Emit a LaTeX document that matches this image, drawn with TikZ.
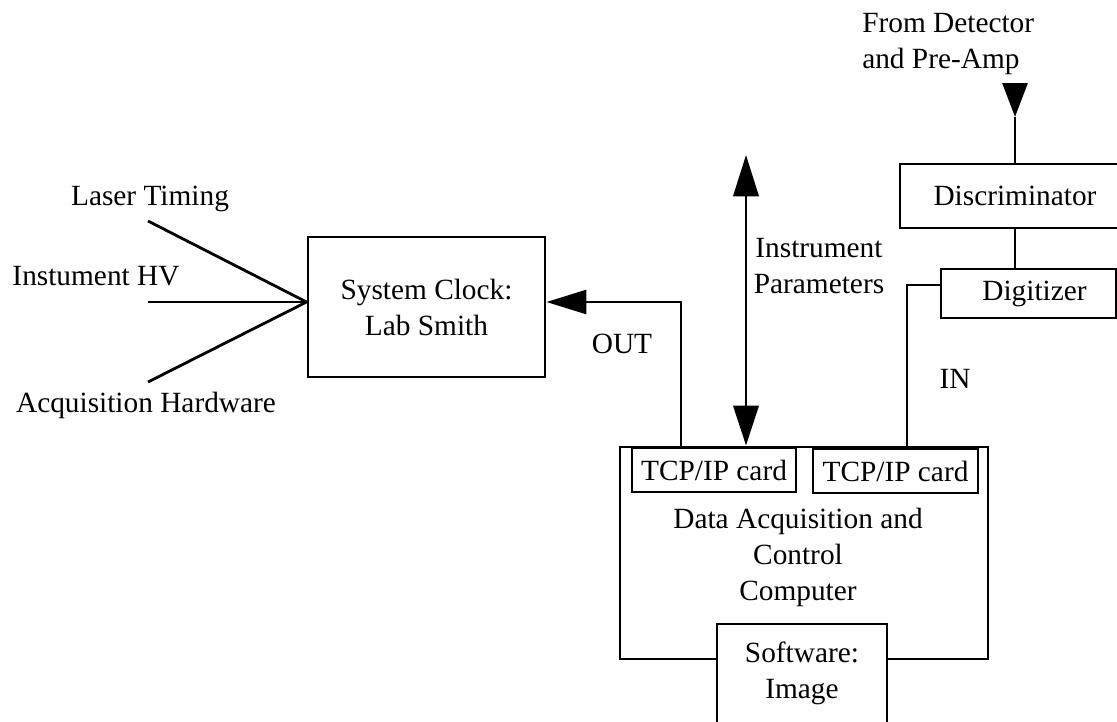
\documentclass[tikz,border=0pt]{standalone}
\usepackage{fontspec}
\setmainfont{Liberation Serif}
\usetikzlibrary{arrows.meta}
\begin{document}
\begin{tikzpicture}[x=0.75pt,y=-0.75pt,
  every node/.style={font=\fontsize{22}{27}\selectfont,inner sep=0pt},
  boxnode/.style={draw,line width=2.2pt,fill=white},
  wire/.style={line width=2.1pt},
  tipend/.style={wire,-{Triangle[length=30pt,width=18pt]}},
  tipboth/.style={wire,{Triangle[length=31pt,width=19pt]}-{Triangle[length=30pt,width=19pt]}},
  lbl/.style={align=center}]
\useasboundingbox (0,0) rectangle (1117,721);

% boxes
\node[boxnode,minimum width=177.75pt,minimum height=105pt,lbl] (clock) at (426.5,307) {System Clock:\\Lab Smith};
\node[boxnode,minimum width=172.5pt,minimum height=48pt] (disc) at (1015,196) {Discriminator};
\node[boxnode,minimum width=131.25pt,minimum height=36.75pt] (dig) at (1028.5,293.5) {\hspace*{9pt}Digitizer};
\node[boxnode,minimum width=276pt,minimum height=159pt] (comp) at (804,553) {};
\node[boxnode,minimum width=123pt,minimum height=33pt] (tcp1) at (714,470) {TCP/IP card};
\node[boxnode,minimum width=123.75pt,minimum height=33pt] (tcp2) at (895.5,471) {TCP/IP card};
\node[lbl] (comptxt) at (798,557) {Data Acquisition and\\Control\\Computer};
\node[boxnode,minimum width=127.5pt,minimum height=102pt] (soft) at (802,692) {};
\node[lbl] (softtxt) at (802,673) {Software:\\Image};

% free labels
\node[anchor=base] (laser) at (150,205) {Laser Timing};
\node[anchor=base] (hv) at (96,285) {Instument HV};
\node[anchor=base] (acq) at (146,412) {Acquisition Hardware};
\node[anchor=base] (out) at (622,353) {OUT};
\node[anchor=base] (in) at (955,388) {IN};
\node[lbl] (ipar) at (819,266) {Instrument\\Parameters};
\node[align=left,anchor=west] (det) at (862,44) {From Detector\\and Pre-Amp};

% coordinates
\coordinate (l1) at (148,221);
\coordinate (l2) at (148,302);
\coordinate (l3) at (148,382);
\coordinate (outc) at (681,302);
\coordinate (iptop) at (746,155);
\coordinate (inc) at (907,285);
\coordinate (detb) at (1015,83);
\coordinate (dett) at (1015,117);

% fan into clock
\draw[wire] (l1) -- (clock.west |- l2);
\draw[wire] (l2) -- (clock.west |- l2);
\draw[wire] (l3) -- (clock.west |- l2);

% OUT connector
\draw[tipend] (comp.north -| outc) -- (outc) -- (clock.east |- outc);

% instrument parameters
\draw[tipboth] (iptop) -- (comp.north -| iptop);

% detector
\draw[tipend,-{Triangle[length=25.5pt,width=18.75pt]}] (detb) -- (dett);
\draw[wire] (dett) -- (disc.north);
\draw[wire] (disc.south) -- (dig.north -| disc.south);

% IN connector
\draw[wire] (dig.west |- inc) -- (inc) -- (tcp2.north -| inc);
\end{tikzpicture}
\end{document}
